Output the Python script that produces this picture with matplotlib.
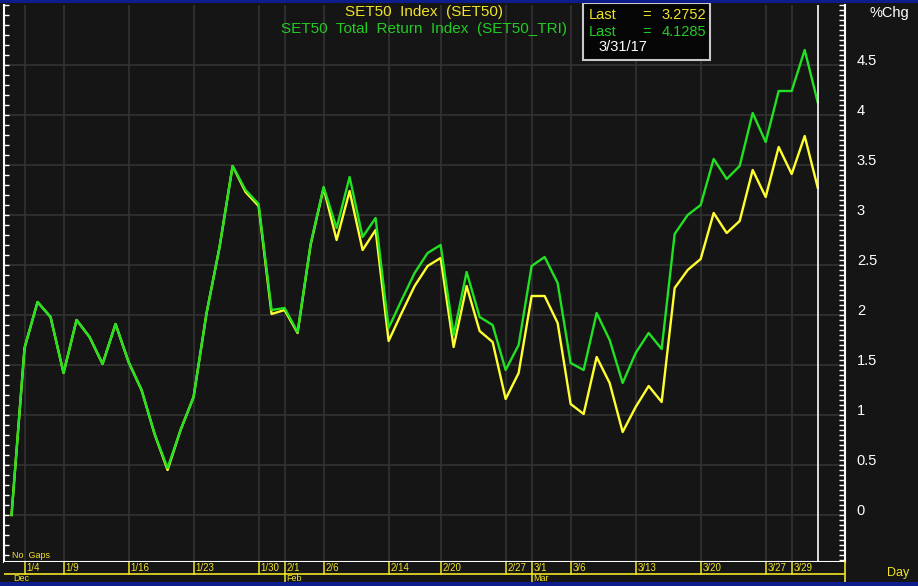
import matplotlib
matplotlib.use('Agg')
import matplotlib.pyplot as plt
from matplotlib.patches import Rectangle
from matplotlib.ticker import MultipleLocator, FixedLocator

plt.rcParams['font.family'] = ['Liberation Sans', 'DejaVu Sans']

# ---------------- data ----------------
dates = ['12/30', '1/4', '1/5', '1/6', '1/9', '1/10', '1/11', '1/12', '1/13',
         '1/16', '1/17', '1/18', '1/19', '1/20', '1/23', '1/24', '1/25', '1/26',
         '1/27', '1/30', '1/31', '2/1', '2/2', '2/3', '2/6', '2/7', '2/8', '2/9',
         '2/10', '2/14', '2/15', '2/16', '2/17', '2/20', '2/21', '2/22', '2/23',
         '2/24', '2/27', '2/28', '3/1', '3/2', '3/3', '3/6', '3/7', '3/8', '3/9',
         '3/10', '3/13', '3/14', '3/15', '3/16', '3/17', '3/20', '3/21', '3/22',
         '3/23', '3/24', '3/27', '3/28', '3/29', '3/30', '3/31']

set50_tri = [0, 1.67, 2.13, 1.98, 1.42, 1.95, 1.78, 1.51, 1.91, 1.53, 1.25, 0.81,
             0.47, 0.85, 1.18, 2.02, 2.68, 3.49, 3.25, 3.11, 2.05, 2.07, 1.83, 2.71,
             3.28, 2.87, 3.38, 2.78, 2.97, 1.87, 2.15, 2.42, 2.62, 2.70, 1.80, 2.43,
             1.98, 1.90, 1.45, 1.70, 2.49, 2.58, 2.32, 1.52, 1.45, 2.02, 1.75, 1.32,
             1.62, 1.82, 1.66, 2.81, 3.00, 3.10, 3.56, 3.36, 3.49, 4.02, 3.73, 4.24,
             4.24, 4.65, 4.1285]

set50 = [0, 1.67, 2.13, 1.98, 1.42, 1.95, 1.78, 1.51, 1.91, 1.53, 1.25, 0.81,
         0.45, 0.85, 1.18, 2.02, 2.68, 3.49, 3.23, 3.09, 2.01, 2.05, 1.82, 2.70,
         3.27, 2.75, 3.24, 2.65, 2.85, 1.74, 2.02, 2.29, 2.49, 2.57, 1.68, 2.29,
         1.84, 1.73, 1.16, 1.42, 2.19, 2.19, 1.92, 1.11, 1.01, 1.58, 1.32, 0.83,
         1.08, 1.29, 1.13, 2.27, 2.45, 2.56, 3.02, 2.82, 2.94, 3.45, 3.18, 3.68,
         3.41, 3.79, 3.2752]

tick_dates = ['1/4', '1/9', '1/16', '1/23', '1/30', '2/1', '2/6', '2/14', '2/20',
              '2/27', '3/1', '3/6', '3/13', '3/20', '3/27', '3/29']
month_labels = ['Dec', 'Feb', 'Mar']
month_starts = ['12/30', '2/1', '3/1']
y_ticks = [0, 0.5, 1, 1.5, 2, 2.5, 3, 3.5, 4, 4.5]

title_set50 = 'SET50  Index  (SET50)'
title_tri = 'SET50  Total  Return  Index  (SET50_TRI)'
last_set50 = '3.2752'
last_tri = '4.1285'
last_date = '3/31/17'

# ---------------- style ----------------
W, H = 918, 586
BG = '#151515'
YEL = '#ffff30'
GRN = '#22e022'
TYEL = '#f2e426'
TGRN = '#22cc22'
BLUE = '#0d1e8c'

fig = plt.figure(figsize=(W / 100, H / 100), dpi=100, facecolor=BG)


def fx(px):
    return px / W


def fy(py):
    return 1 - py / H


x = list(range(len(dates)))
XL = (-0.58, 64.1)
YL = (-0.47, 5.10)

ax = fig.add_axes([fx(4), fy(562), fx(845) - fx(4), fy(5) - fy(562)])
ax.set_facecolor(BG)
ax.set_xlim(*XL)
ax.set_ylim(*YL)

# left-side ticks every 0.1 (twin axis created first; it resets ax ticks to the left)
axl = ax.twinx()
axl.set_ylim(*YL)
axl.yaxis.tick_left()
axl.yaxis.set_major_locator(MultipleLocator(0.1))
axl.tick_params(axis='y', direction='in', length=3.5, color='white', width=1,
                labelleft=False, labelright=False)
for s in axl.spines.values():
    s.set_visible(False)

tick_idx = [dates.index(d) for d in tick_dates]
ax.xaxis.set_major_locator(FixedLocator(tick_idx))
ax.yaxis.set_major_locator(FixedLocator(y_ticks))
ax.yaxis.set_minor_locator(MultipleLocator(0.05))
ax.grid(True, which='major', color='#323232', lw=1.2)
ax.set_axisbelow(True)

ax.yaxis.tick_right()
ax.tick_params(axis='x', length=0, labelbottom=False)
ax.tick_params(axis='y', which='both', direction='in', left=False, right=True,
               labelleft=False, labelright=True, color='white', labelcolor='white',
               labelsize=10.5, length=4, width=1, pad=8.5)
ax.set_yticklabels(['{:g}'.format(v) for v in y_ticks], va='baseline')

ax.spines['top'].set_visible(False)
for s in ['left', 'right', 'bottom']:
    ax.spines[s].set_color('white')
    ax.spines[s].set_linewidth(1.5)

ax.plot(x, set50, color=YEL, lw=1.7, zorder=3)
ax.plot(x, set50_tri, color=GRN, lw=1.7, zorder=4)
ax.axvline(dates.index('3/31'), color='white', lw=1.2, zorder=5)

# title texts
fig.text(fx(424), fy(12), title_set50, color=TYEL, ha='center', va='center', fontsize=11)
fig.text(fx(424), fy(29), title_tri, color=TGRN, ha='center', va='center', fontsize=11)

# value box
fig.patches.append(Rectangle((fx(583), fy(60)), fx(710) - fx(583), fy(3) - fy(60),
                             transform=fig.transFigure, facecolor='#050505',
                             edgecolor='#c8c8c8', lw=1.5, zorder=10))
for yy, col, val in [(15, TYEL, last_set50), (32, TGRN, last_tri)]:
    fig.text(fx(589), fy(yy), 'Last', color=col, va='center', ha='left', fontsize=10.5, zorder=11)
    fig.text(fx(642), fy(yy), '=', color=col, va='center', ha='left', fontsize=10.5, zorder=11)
    fig.text(fx(706), fy(yy), val, color=col, va='center', ha='right', fontsize=10.5, zorder=11)
fig.text(fx(598), fy(47), last_date, color='white', va='center', ha='left', fontsize=10.5, zorder=11)

fig.text(fx(870), fy(13), '%Chg', color='white', va='center', ha='left', fontsize=10.5)
fig.text(fx(887), fy(573), 'Day', color=TYEL, va='center', ha='left', fontsize=9)
fig.text(fx(12), fy(555), 'No  Gaps', color=TYEL, va='center', ha='left', fontsize=6.5)

# date band
band = fig.add_axes([fx(4), fy(582), fx(845) - fx(4), fy(562) - fy(582)])
band.set_facecolor(BG)
band.set_xlim(*XL)
band.set_ylim(0, 20)
band.set_xticks([])
band.set_yticks([])
for s in ['top', 'left', 'bottom']:
    band.spines[s].set_visible(False)
band.spines['right'].set_color(TYEL)
band.spines['right'].set_linewidth(1.2)
band.axhline(8.5, color=TYEL, lw=1.2)
for i, lab in zip(tick_idx, tick_dates):
    band.plot([i, i], [8.5, 20], color=TYEL, lw=1.1)
    band.text(i + 0.12, 14, lab, color=TYEL, fontsize=7, va='center', ha='left')
for m, d in zip(month_labels, month_starts):
    i = dates.index(d)
    if d != dates[0]:
        band.plot([i, i], [0, 8.5], color=TYEL, lw=1.1)
    band.text(i + 0.12, 3.8, m, color=TYEL, fontsize=6.5, va='center', ha='left')

# blue frame strips
fig.patches.append(Rectangle((0, fy(3)), 1, fy(0) - fy(3), transform=fig.transFigure,
                             facecolor=BLUE, edgecolor='none', zorder=20))
fig.patches.append(Rectangle((0, 0), 1, fy(582), transform=fig.transFigure,
                             facecolor=BLUE, edgecolor='none', zorder=20))

fig.savefig('out.png', dpi=100, facecolor=BG)
